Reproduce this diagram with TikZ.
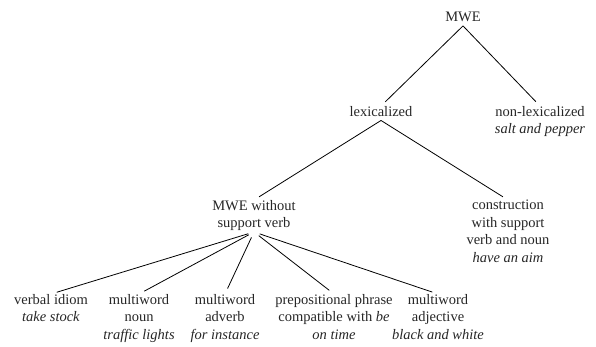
\documentclass[tikz,border=0pt]{standalone}
\usepackage{fontspec}
\setmainfont{Liberation Serif}
\begin{document}
\begin{tikzpicture}[x=1pt,y=-1pt,
  lbl/.style={anchor=north, align=center, inner sep=0pt, text depth=4pt,
    font=\fontsize{14.5pt}{17.5pt}\selectfont, text=black!85},
  edge/.style={line width=0.8pt, shorten >=6pt}]
\useasboundingbox (0,0) rectangle (596,346);
\node[lbl] (mwe) at (463,12) {MWE};
\node[lbl] (lex) at (381,106) {lexicalized};
\node[lbl] (nonlex) at (540,106) {non-lexicalized\\\textit{salt and pepper}};
\node[lbl] (wsv) at (254,200) {MWE without\\support verb};
\node[lbl] (csv) at (508,200) {construction\\with support\\verb and noun\\\textit{have an aim}};
\node[lbl] (vi) at (51,294) {verbal idiom\\\textit{take stock}};
\node[lbl] (mn) at (139,294) {multiword\\noun\\\textit{traffic lights}};
\node[lbl] (ma) at (225,294) {multiword\\adverb\\\textit{for instance}};
\node[lbl] (pp) at (334,294) {prepositional phrase\\compatible with \textit{be}\\\textit{on time}};
\node[lbl] (mj) at (438,294) {multiword\\adjective\\\textit{black and white}};
\draw[edge] (mwe.south) -- (lex.north);
\draw[edge] (mwe.south) -- (nonlex.north);
\draw[edge] (lex.south) -- (wsv.north);
\draw[edge] (lex.south) -- (csv.north);
\foreach \t in {vi,mn,ma,pp,mj}
  \draw[edge, shorten <=6pt] (wsv.south) -- (\t.north);
\end{tikzpicture}
\end{document}
